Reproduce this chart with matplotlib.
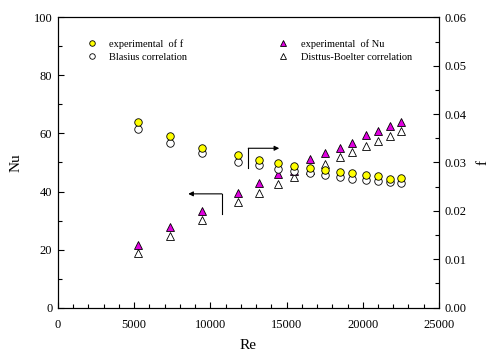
import matplotlib
matplotlib.use("Agg")
import matplotlib.pyplot as plt
from matplotlib.lines import Line2D
from matplotlib.ticker import MultipleLocator, FormatStrFormatter

plt.rcParams['font.family'] = ['Liberation Serif', 'DejaVu Serif']

# Reynolds numbers of the test runs
re = [5270, 7330, 9450, 11790, 13190, 14460, 15490, 16560, 17500,
      18500, 19310, 20190, 21000, 21780, 22530]

# Friction factor: measured and Blasius correlation
f_exp = [0.0383, 0.0355, 0.0329, 0.0316, 0.0306, 0.0298, 0.0293, 0.0289,
         0.0284, 0.0280, 0.0278, 0.0275, 0.0272, 0.0266, 0.0267]
f_blasius = [0.0370, 0.0341, 0.0320, 0.0302, 0.0294, 0.0287, 0.0283, 0.0279,
             0.0274, 0.0271, 0.0266, 0.0264, 0.0261, 0.0259, 0.0258]

# Nusselt number: measured and Dittus-Boelter correlation
nu_exp = [21.5, 27.9, 33.3, 39.5, 42.8, 45.9, 47.2, 51.2, 53.4,
          54.9, 56.8, 59.5, 60.8, 62.7, 63.8]
nu_db = [18.9, 24.7, 30.2, 36.3, 39.6, 42.6, 45.1, 47.5, 49.6,
         51.8, 53.6, 55.6, 57.4, 59.2, 60.7]

fig = plt.figure(figsize=(4.91, 3.56), dpi=100)
ax = fig.add_axes([0.118, 0.1357, 0.776, 0.8157])
ax2 = ax.twinx()

ms = 5.4
ax.plot(re, nu_db, ls='none', marker='^', ms=ms, mfc='white', mec='black', mew=0.6)
ax.plot(re, nu_exp, ls='none', marker='^', ms=ms, mfc='#e000e0', mec='black', mew=0.6)
ax2.plot(re, f_blasius, ls='none', marker='o', ms=ms, mfc='white', mec='black', mew=0.6)
ax2.plot(re, f_exp, ls='none', marker='o', ms=ms, mfc='#ffff00', mec='black', mew=0.6)

ax.set_xlim(0, 25000)
ax.set_ylim(0, 100)
ax2.set_ylim(0, 0.06)

ax.xaxis.set_major_locator(MultipleLocator(5000))
ax.xaxis.set_minor_locator(MultipleLocator(1000))
ax.yaxis.set_major_locator(MultipleLocator(20))
ax.yaxis.set_minor_locator(MultipleLocator(10))
ax2.yaxis.set_major_locator(MultipleLocator(0.01))
ax2.yaxis.set_minor_locator(MultipleLocator(0.005))
ax2.yaxis.set_major_formatter(FormatStrFormatter('%.2f'))

for a in (ax, ax2):
    a.tick_params(which='both', direction='in', labelsize=9, width=0.8, pad=4)
    a.tick_params(which='major', length=4.5)
    a.tick_params(which='minor', length=3)
    for s in a.spines.values():
        s.set_linewidth(0.8)
ax.tick_params(axis='y', left=True, right=False)
ax.tick_params(axis='x', top=False, which='both', pad=8)
ax2.tick_params(axis='y', right=True, left=False)

ax.set_xlabel('Re', fontsize=11, labelpad=6)
ax.set_ylabel('Nu', fontsize=11, labelpad=8)
ax2.set_ylabel('f', fontsize=11, labelpad=7)

# Arrows pointing each group to its own axis
ax.plot([10760, 10760], [32.2, 39.2], color='black', lw=0.8)
ax.annotate('', xy=(8550, 39.2), xytext=(10760, 39.2),
            arrowprops=dict(arrowstyle='-|>', color='black', lw=0.8,
                            mutation_scale=7, shrinkA=0, shrinkB=0))
ax.plot([12490, 12490], [48.2, 54.9], color='black', lw=0.8)
ax.annotate('', xy=(14520, 54.9), xytext=(12490, 54.9),
            arrowprops=dict(arrowstyle='-|>', color='black', lw=0.8,
                            mutation_scale=7, shrinkA=0, shrinkB=0))

lms = 4
handles = [
    Line2D([], [], ls='none', marker='o', ms=lms, mfc='#ffff00', mec='black', mew=0.6),
    Line2D([], [], ls='none', marker='o', ms=lms, mfc='white', mec='black', mew=0.6),
    Line2D([], [], ls='none', marker='^', ms=lms, mfc='#e000e0', mec='black', mew=0.6),
    Line2D([], [], ls='none', marker='^', ms=lms, mfc='white', mec='black', mew=0.6),
]
labels = ['experimental  of f', 'Blasius correlation',
          'experimental  of Nu', 'Disttus-Boelter correlation']
ax2.legend(handles, labels, ncol=2, frameon=False, fontsize=7.5,
           loc='upper left', bbox_to_anchor=(0.05, 0.958),
           handletextpad=1.2, columnspacing=8.7, labelspacing=0.35,
           handlelength=1.0)

fig.savefig('out.png', dpi=100)
